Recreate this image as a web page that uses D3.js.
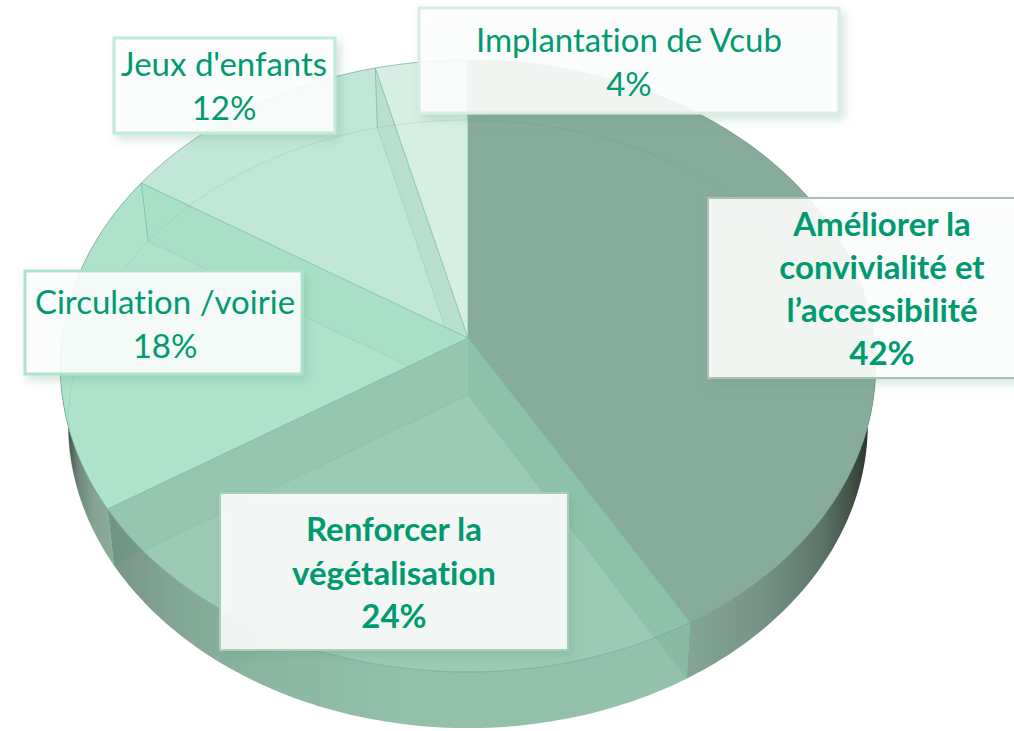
<!DOCTYPE html>
<html>
<head>
<meta charset="utf-8">
<script src="https://cdn.jsdelivr.net/npm/d3@7"></script>
<style>
html, body { margin: 0; padding: 0; background: #fff; overflow: hidden; }
svg { display: block; }
text { font-family: Lato, "Open Sans", sans-serif; font-variant-ligatures: none; }
</style>
</head>
<body>
<div id="chart"></div>
<script>
const categories = ["Améliorer la convivialité et l’accessibilité", "Renforcer la végétalisation", "Circulation /voirie", "Jeux d'enfants", "Implantation de Vcub"];
const shares = [41.6, 24.4, 18, 12, 4];
const labelLines = [
    ["Améliorer la", "convivialité et", "l’accessibilité"],
    ["Renforcer la", "végétalisation"],
    ["Circulation /voirie"],
    ["Jeux d'enfants"],
    ["Implantation de Vcub"]
];
const faceColors = ["#88ac9b", "#9ccbb5", "#aee2cb", "#c2e7d8", "#d6eee3"];
const bandColors = ["#88ac9b", "#8dc1aa", "#96c6af", "#a9dfc7", "#b9dfce"];
const bandOwners = [0, 1, 1, 2, 3];
const boldLabel = [true, true, false, false, false];
const boxBorders = ["#a6c2b5", "#a5cfbb", "#aee2cb", "#c0ead9", "#d6eee3"];

const width = 1014, height = 731;
const svg = d3.select("#chart").append("svg").attr("width", width).attr("height", height);
const defs = svg.append("defs");

// the pie seen in perspective: top and bottom discs share the same projection
const topDisc = {x: 468, y: 338, a: 406, b: 303.4, k: 0.0915};
const botDisc = {x: 468, y: 395, a: 398, b: 301.3, k: 0.0955};
function project(disc, t) {
    const w = 1 + disc.k * Math.cos(t);
    return [disc.x + disc.a * Math.sin(t) / w, disc.y - disc.b * Math.cos(t) / w];
}
function arcPoints(disc, t0, t1) {
    const n = Math.max(2, Math.ceil(Math.abs(t1 - t0) / 0.02));
    return d3.range(n + 1).map(i => project(disc, t0 + (t1 - t0) * i / n));
}
const line = d3.line();
const closed = d3.line().curve(d3.curveLinearClosed);

const slices = d3.pie().sort(null)(shares);
const wallPath = d => closed(arcPoints(topDisc, d.startAngle, d.endAngle)
    .concat(arcPoints(botDisc, d.endAngle, d.startAngle)));
const facePath = d => closed([[topDisc.x, topDisc.y]].concat(arcPoints(topDisc, d.startAngle, d.endAngle)));
const bandPath = d => closed([[topDisc.x, topDisc.y], project(topDisc, d.startAngle),
    project(botDisc, d.startAngle), [botDisc.x, botDisc.y]]);

// gradients of the outer wall, dark where it turns away
function wallGradient(id, stops) {
    const g = defs.append("linearGradient").attr("id", id)
        .attr("gradientUnits", "userSpaceOnUse")
        .attr("x1", 60).attr("x2", 876).attr("y1", 0).attr("y2", 0);
    stops.forEach(s => g.append("stop").attr("offset", (s[0] - 60) / 816).attr("stop-color", s[1]));
    return "url(#" + id + ")";
}
const wallFills = [
    wallGradient("wall0", [[690, "#84a595"], [760, "#759487"], [820, "#5d766b"], [850, "#435449"], [868, "#2a3531"]]),
    wallGradient("wall1", [[110, "#769486"], [170, "#82a594"], [260, "#8bb6a1"], [400, "#92c0aa"], [690, "#93c1ab"]]),
    wallGradient("wall2", [[66, "#3c4541"], [78, "#6d8679"], [95, "#86a494"], [120, "#8fae9e"]]),
    "#c2e7d8", "#d6eee3"
];

slices.forEach((d, i) => {
    defs.append("clipPath").attr("id", "faceClip" + i).append("path").attr("d", facePath(d));
    defs.append("clipPath").attr("id", "wallClip" + i).append("path").attr("d", wallPath(d));
});

const pie = svg.append("g");

pie.selectAll(".wall").data(slices).enter().append("path")
    .attr("class", "wall")
    .attr("fill", (d, i) => wallFills[i])
    .attr("d", wallPath);

pie.selectAll(".face").data(slices).enter().append("path")
    .attr("class", "face")
    .attr("fill", (d, i) => faceColors[i])
    .attr("d", facePath);

// inner radial walls seen through the glass, kept inside the slice that owns them
const inner = slices.slice(1);
pie.selectAll(".bandFace").data(inner).enter().append("g")
    .attr("clip-path", d => "url(#faceClip" + bandOwners[d.index] + ")")
    .append("path")
    .attr("class", "bandFace")
    .attr("fill", d => bandColors[d.index])
    .attr("d", bandPath);
pie.selectAll(".bandWall").data(inner).enter().append("g")
    .attr("clip-path", d => "url(#wallClip" + bandOwners[d.index] + ")")
    .append("path")
    .attr("class", "bandWall")
    .attr("fill", "#4f8f76").attr("fill-opacity", 0.12)
    .attr("d", bandPath);
pie.selectAll(".edge2").data(inner).enter().append("g")
    .attr("clip-path", d => "url(#faceClip" + bandOwners[d.index] + ")")
    .append("path")
    .attr("class", "edge2")
    .attr("fill", "none").attr("stroke", "#6fb99b").attr("stroke-opacity", 0.25).attr("stroke-width", 1)
    .attr("d", d => line([[botDisc.x, botDisc.y], project(botDisc, d.startAngle)]));

// rims
pie.selectAll(".rim").data(slices).enter().append("path")
    .attr("class", "rim")
    .attr("fill", "none").attr("stroke", "#5a9a81").attr("stroke-opacity", 0.55).attr("stroke-width", 1)
    .attr("d", d => line(arcPoints(topDisc, d.startAngle, d.endAngle)));
pie.selectAll(".backrim").data(slices.slice(2)).enter().append("path")
    .attr("class", "backrim")
    .attr("fill", "none").attr("stroke", "#6aa890").attr("stroke-opacity", 0.2).attr("stroke-width", 1)
    .attr("d", d => line(arcPoints(botDisc, d.startAngle, d.endAngle)));
pie.append("path")
    .attr("fill", "none").attr("stroke", "#6b9483").attr("stroke-opacity", 0.3).attr("stroke-width", 1)
    .attr("d", line(arcPoints(botDisc, 0, 1.25)));

// edges between slices
pie.selectAll(".edge").data(slices).enter().append("path")
    .attr("class", "edge")
    .attr("fill", "none").attr("stroke", "#6fb99b").attr("stroke-opacity", 0.7).attr("stroke-width", 1)
    .attr("d", d => line([[topDisc.x, topDisc.y], project(topDisc, d.startAngle), project(botDisc, d.startAngle)]));

// labels
const boxLayout = [
    {x: 708, y: 198, w: 312, h: 180, cx: 882, base: 236, step: 43, size: 33, border: 2},
    {x: 220, y: 493, w: 348, h: 157, cx: 394, base: 541, step: 43.5, size: 33, border: 2},
    {x: 25, y: 271, w: 277, h: 103, cx: 165, base: 314, step: 44, size: 33, border: 3},
    {x: 114, y: 38, w: 221, h: 95, cx: 224, base: 76, step: 44, size: 33, border: 3},
    {x: 419, y: 8, w: 420, h: 105, cx: 629, base: 52, step: 44, size: 33, border: 3}
];
const shadow = defs.append("filter").attr("id", "boxShadow")
    .attr("x", "-10%").attr("y", "-10%").attr("width", "125%").attr("height", "130%");
shadow.append("feDropShadow").attr("dx", 4).attr("dy", 5).attr("stdDeviation", 5)
    .attr("flood-color", "#5f9f86").attr("flood-opacity", 0.3);

const labels = svg.selectAll(".label").data(categories).enter().append("g").attr("class", "label");
labels.append("rect")
    .attr("x", (d, i) => boxLayout[i].x).attr("y", (d, i) => boxLayout[i].y)
    .attr("width", (d, i) => boxLayout[i].w).attr("height", (d, i) => boxLayout[i].h)
    .attr("fill", "#fff").attr("fill-opacity", 0.87)
    .attr("stroke", (d, i) => boxBorders[i]).attr("stroke-width", (d, i) => boxLayout[i].border)
    .attr("filter", "url(#boxShadow)");
labels.each(function(d, i) {
    const b = boxLayout[i];
    const rows = labelLines[i].concat([d3.format(".0f")(shares[i]) + "%"]);
    d3.select(this).selectAll("text").data(rows).enter().append("text")
        .attr("x", b.cx).attr("y", (r, j) => b.base + j * b.step)
        .attr("text-anchor", "middle")
        .attr("font-size", b.size)
        .attr("font-weight", boldLabel[i] ? 700 : 400)
        .attr("fill", "#009a70")
        .text(r => r);
});
</script>
</body>
</html>
